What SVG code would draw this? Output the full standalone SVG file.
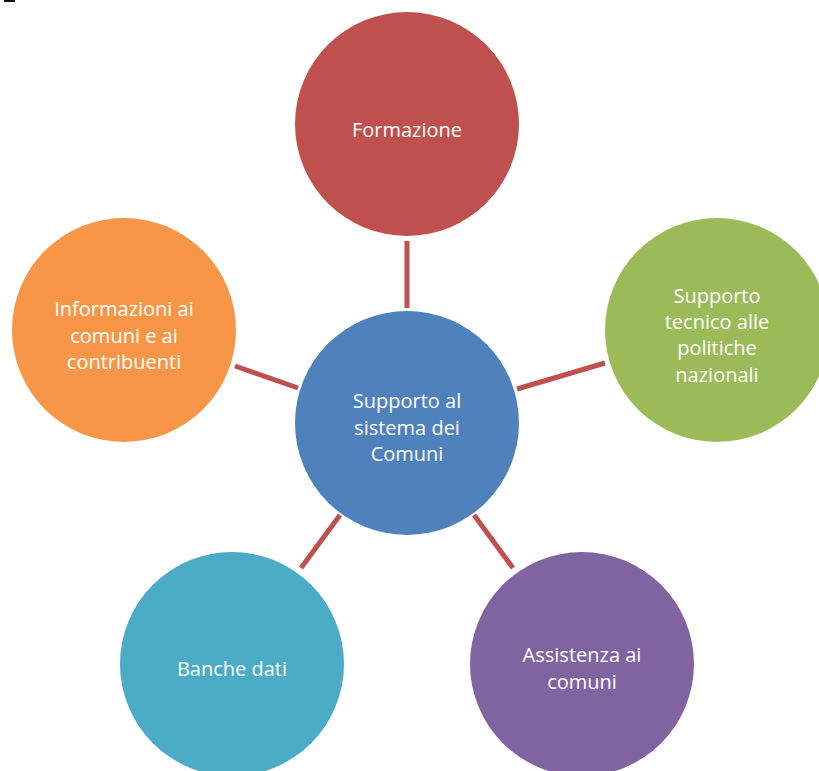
<svg xmlns="http://www.w3.org/2000/svg" width="819" height="771" viewBox="0 0 819 771">
<style>
.lbl{font-family:"Open Sans","Liberation Sans",sans-serif;font-size:20px;fill:#ffffff;text-anchor:middle}
.conn line{stroke:#C0504D;stroke-width:5}
</style>
<rect width="819" height="771" fill="#ffffff"/>
<rect x="4" y="0" width="11" height="2" fill="#111111"/>
<g id="connectors" class="conn">
<line x1="407" y1="241" x2="407" y2="308"/>
<line x1="235" y1="366" x2="298" y2="388"/>
<line x1="517" y1="389" x2="605" y2="363"/>
<line x1="340" y1="515" x2="301" y2="568"/>
<line x1="474" y1="515" x2="513" y2="568"/>
</g>
<g id="formazione">
<circle cx="407" cy="124" r="112" fill="#C0504D"/>
<text class="lbl" x="407" y="137">Formazione</text>
</g>
<g id="informazioni">
<circle cx="124" cy="330" r="112" fill="#F79646"/>
<text class="lbl" x="124" y="316">Informazioni ai</text>
<text class="lbl" x="124" y="343">comuni e ai</text>
<text class="lbl" x="124" y="369">contribuenti</text>
</g>
<g id="supporto-tecnico">
<circle cx="717" cy="330" r="112" fill="#9BBB59"/>
<text class="lbl" x="717" y="303">Supporto</text>
<text class="lbl" x="717" y="329">tecnico alle</text>
<text class="lbl" x="717" y="355">politiche</text>
<text class="lbl" x="717" y="382">nazionali</text>
</g>
<g id="centro">
<circle cx="407" cy="423" r="112" fill="#4F81BD"/>
<text class="lbl" x="407" y="408">Supporto al</text>
<text class="lbl" x="407" y="435">sistema dei</text>
<text class="lbl" x="407" y="461">Comuni</text>
</g>
<g id="banche-dati">
<circle cx="232" cy="664" r="112" fill="#4BACC6"/>
<text class="lbl" x="232" y="676">Banche dati</text>
</g>
<g id="assistenza">
<circle cx="582" cy="664" r="112" fill="#8064A2"/>
<text class="lbl" x="582" y="662">Assistenza ai</text>
<text class="lbl" x="582" y="689">comuni</text>
</g>
</svg>
